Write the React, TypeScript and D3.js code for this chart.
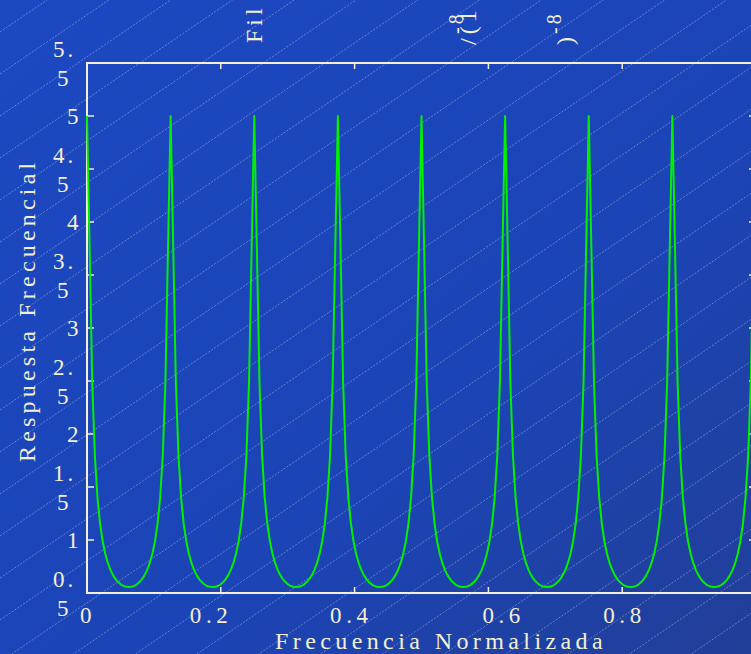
import React from 'react';
import * as d3 from 'd3';

// Frequency response samples (256 samples over 0..1, 8 periods)
const RESPONSE: number[] = [
  5.000, 3.760, 2.486, 1.797, 1.402, 1.154, 0.986, 0.868, 0.781, 0.716, 0.666, 0.629, 0.601, 0.580, 0.566, 0.558, 0.556, 0.558, 0.566, 0.580, 0.601, 0.629, 0.666, 0.716, 0.781, 0.868, 0.986, 1.154, 1.402, 1.797, 2.486, 3.760,
  5.000, 3.760, 2.486, 1.797, 1.402, 1.154, 0.986, 0.868, 0.781, 0.716, 0.666, 0.629, 0.601, 0.580, 0.566, 0.558, 0.556, 0.558, 0.566, 0.580, 0.601, 0.629, 0.666, 0.716, 0.781, 0.868, 0.986, 1.154, 1.402, 1.797, 2.486, 3.760,
  5.000, 3.760, 2.486, 1.797, 1.402, 1.154, 0.986, 0.868, 0.781, 0.716, 0.666, 0.629, 0.601, 0.580, 0.566, 0.558, 0.556, 0.558, 0.566, 0.580, 0.601, 0.629, 0.666, 0.716, 0.781, 0.868, 0.986, 1.154, 1.402, 1.797, 2.486, 3.760,
  5.000, 3.760, 2.486, 1.797, 1.402, 1.154, 0.986, 0.868, 0.781, 0.716, 0.666, 0.629, 0.601, 0.580, 0.566, 0.558, 0.556, 0.558, 0.566, 0.580, 0.601, 0.629, 0.666, 0.716, 0.781, 0.868, 0.986, 1.154, 1.402, 1.797, 2.486, 3.760,
  5.000, 3.760, 2.486, 1.797, 1.402, 1.154, 0.986, 0.868, 0.781, 0.716, 0.666, 0.629, 0.601, 0.580, 0.566, 0.558, 0.556, 0.558, 0.566, 0.580, 0.601, 0.629, 0.666, 0.716, 0.781, 0.868, 0.986, 1.154, 1.402, 1.797, 2.486, 3.760,
  5.000, 3.760, 2.486, 1.797, 1.402, 1.154, 0.986, 0.868, 0.781, 0.716, 0.666, 0.629, 0.601, 0.580, 0.566, 0.558, 0.556, 0.558, 0.566, 0.580, 0.601, 0.629, 0.666, 0.716, 0.781, 0.868, 0.986, 1.154, 1.402, 1.797, 2.486, 3.760,
  5.000, 3.760, 2.486, 1.797, 1.402, 1.154, 0.986, 0.868, 0.781, 0.716, 0.666, 0.629, 0.601, 0.580, 0.566, 0.558, 0.556, 0.558, 0.566, 0.580, 0.601, 0.629, 0.666, 0.716, 0.781, 0.868, 0.986, 1.154, 1.402, 1.797, 2.486, 3.760,
  5.000, 3.760, 2.486, 1.797, 1.402, 1.154, 0.986, 0.868, 0.781, 0.716, 0.666, 0.629, 0.601, 0.580, 0.566, 0.558, 0.556, 0.558, 0.566, 0.580, 0.601, 0.629, 0.666, 0.716, 0.781, 0.868, 0.986, 1.154, 1.402, 1.797, 2.486, 3.760,
  5.000,
];
const SAMPLE_COUNT = 256;

const X_TICKS = [0, 0.2, 0.4, 0.6, 0.8, 1];
const X_TICK_LABELS = ['0', '0.2', '0.4', '0.6', '0.8', ''];
const Y_TICKS = [0.5, 1, 1.5, 2, 2.5, 3, 3.5, 4, 4.5, 5, 5.5];
const Y_TICK_LABELS = ['0.5', '1', '1.5', '2', '2.5', '3', '3.5', '4', '4.5', '5', '5.5'];

const X_LABEL = 'Frecuencia Normalizada';
const Y_LABEL = 'Respuesta Frecuencial';

// style constants
const W = 751;
const H = 654;
const X_LABEL_NUDGE = [-7, -31, -24.5, -6, -19, -8];
const CREAM = '#f3efd2';
const GREEN = '#00f000';
const FONT = '"Liberation Serif", "Times New Roman", serif';

export default function App() {
  const x = d3.scaleLinear().domain([0, 1]).range([87, 756]);
  const y = d3.scaleLinear().domain([0.5, 5.5]).range([593, 63]);

  const line = d3
    .line<number>()
    .x((_, i) => x(i / SAMPLE_COUNT))
    .y((d) => y(d));

  const hatch: string[] = [];
  const slope = 0.68;
  for (let c = -10; c < H + slope * W + 40; c += 42) {
    hatch.push(`M0,${c}L${W},${c - slope * W}`);
  }

  return (
    <svg
      width={W}
      height={H}
      style={{ position: 'absolute', left: 0, top: 0, display: 'block' }}
      fontFamily={FONT}
    >
      <defs>
        <linearGradient id="bg" x1="0" y1="0" x2="1" y2="1">
          <stop offset="0" stopColor="#1c48c2" />
          <stop offset="0.6" stopColor="#1b44b6" />
          <stop offset="1" stopColor="#213f98" />
        </linearGradient>
      </defs>
      <rect x={0} y={0} width={W} height={H} fill="url(#bg)" />
      <g stroke="#ffffff" strokeOpacity={0.4} strokeWidth={0.8} strokeDasharray="2 1.5" fill="none">
        {hatch.map((d, i) => (
          <path key={i} d={d} />
        ))}
      </g>

      {/* title fragments */}
      <g fill={CREAM}>
        <text transform="translate(262,43) rotate(-90)" fontSize={24} letterSpacing={4}>Fil</text>
        <text transform="translate(476,45) rotate(-90)" fontSize={24} letterSpacing={4}>/(1</text>
        <text transform="translate(463,34) rotate(-90)" fontSize={20} letterSpacing={3}>-8</text>
        <text transform="translate(573,45) rotate(-90)" fontSize={24}>)</text>
        <text transform="translate(561,34) rotate(-90)" fontSize={20} letterSpacing={3}>-8</text>
      </g>

      {/* frame */}
      <rect x={x(0)} y={y(5.5)} width={x(1) - x(0)} height={y(0.5) - y(5.5)} fill="none" stroke={CREAM} strokeWidth={2} />

      {/* ticks */}
      <g stroke={CREAM} strokeWidth={1.5}>
        {X_TICKS.map((t) => (
          <g key={'xt' + t}>
            <line x1={x(t)} x2={x(t)} y1={y(0.5)} y2={y(0.5) - 6} />
            <line x1={x(t)} x2={x(t)} y1={y(5.5)} y2={y(5.5) + 6} />
          </g>
        ))}
        {Y_TICKS.map((t) => (
          <g key={'yt' + t}>
            <line x1={x(0)} x2={x(0) + 7} y1={y(t)} y2={y(t)} />
            <line x1={x(1)} x2={x(1) - 7} y1={y(t)} y2={y(t)} />
          </g>
        ))}
      </g>

      {/* curve */}
      <path d={line(RESPONSE) || ''} fill="none" stroke={GREEN} strokeWidth={2} strokeLinejoin="round" />

      {/* tick labels */}
      <g fill={CREAM} fontSize={23}>
        {X_TICKS.map((t, i) =>
          X_TICK_LABELS[i] ? (
            <text key={'xl' + t} x={x(t) + X_LABEL_NUDGE[i]} y={623} letterSpacing={4.6}>
              {X_TICK_LABELS[i]}
            </text>
          ) : null
        )}
        {Y_TICKS.map((t, i) => {
          const lab = Y_TICK_LABELS[i];
          if (lab.includes('.')) {
            const [a, b] = lab.split('.');
            return (
              <g key={'yl' + t}>
                <text x={53} y={y(t) - 6} letterSpacing={3}>{a + '.'}</text>
                <text x={57} y={y(t) + 23}>{b}</text>
              </g>
            );
          }
          return (
            <text key={'yl' + t} x={67} y={y(t) + 8}>
              {lab}
            </text>
          );
        })}
      </g>

      {/* axis labels */}
      <g fill={CREAM} fontSize={24}>
        <text x={275} y={649} letterSpacing={4.4}>{X_LABEL}</text>
        <text transform="translate(35,462) rotate(-90)" letterSpacing={4.2}>{Y_LABEL}</text>
      </g>
    </svg>
  );
}
